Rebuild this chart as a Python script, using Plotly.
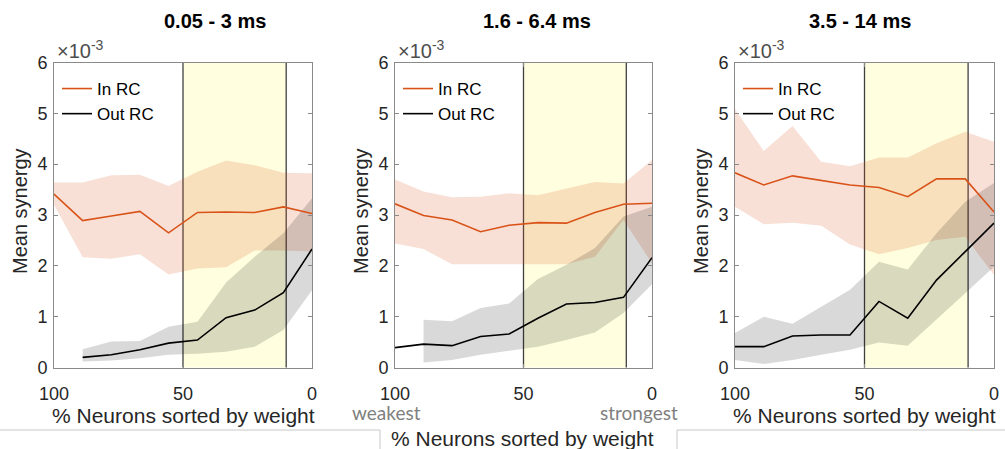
import plotly.graph_objects as go

# ---------------- data (Mean synergy, in units of 1e-3) ----------------
pct = [100, 88.9, 77.8, 66.7, 55.6, 44.4, 33.3, 22.2, 11.1, 0]
highlight = [50, 10]          # shaded window (% neurons)
titles = ["0.05 - 3 ms", "1.6 - 6.4 ms", "3.5 - 14 ms"]
xticks = [100, 50, 0]
yticks = [0, 1, 2, 3, 4, 5, 6]

# panel 1: 0.05 - 3 ms
in_mean_1 = [3.41, 2.89, 2.98, 3.07, 2.65, 3.05, 3.06, 3.05, 3.16, 3.03]
in_hi_1 = [3.64, 3.64, 3.78, 3.79, 3.57, 3.85, 4.07, 3.98, 3.83, 3.82]
in_lo_1 = [3.20, 2.17, 2.14, 2.23, 1.83, 1.95, 1.97, 2.30, 2.30, 2.28]
out_mean_1 = [None, 0.20, 0.25, 0.35, 0.48, 0.54, 0.98, 1.13, 1.47, 2.33]
out_hi_1 = [None, 0.36, 0.51, 0.52, 0.80, 0.90, 1.67, 2.18, 2.64, 3.33]
out_lo_1 = [None, 0.12, 0.14, 0.18, 0.25, 0.27, 0.31, 0.41, 0.74, 1.52]

# panel 2: 1.6 - 6.4 ms
in_mean_2 = [3.22, 2.99, 2.90, 2.67, 2.80, 2.85, 2.84, 3.05, 3.21, 3.23]
in_hi_2 = [3.70, 3.46, 3.35, 3.36, 3.43, 3.39, 3.52, 3.65, 3.62, 4.08]
in_lo_2 = [2.44, 2.33, 2.03, 2.03, 2.03, 2.03, 2.03, 2.18, 2.90, 2.05]
out_mean_2 = [0.39, 0.46, 0.43, 0.61, 0.66, 0.97, 1.25, 1.28, 1.38, 2.16]
out_hi_2 = [None, 0.94, 0.91, 1.17, 1.26, 1.74, 2.02, 2.35, 2.97, 3.16]
out_lo_2 = [None, 0.10, 0.15, 0.25, 0.33, 0.41, 0.54, 0.69, 1.07, 1.64]

# panel 3: 3.5 - 14 ms
in_mean_3 = [3.83, 3.59, 3.77, 3.68, 3.59, 3.54, 3.36, 3.71, 3.71, 3.06]
in_hi_3 = [5.08, 4.26, 4.75, 4.05, 3.96, 4.13, 4.13, 4.41, 4.64, 4.44]
in_lo_3 = [3.16, 2.82, 2.85, 2.79, 2.42, 2.23, 2.35, 2.51, 2.57, 1.82]
out_mean_3 = [0.41, 0.41, 0.62, 0.64, 0.64, 1.30, 0.97, 1.72, 2.28, 2.84]
out_hi_3 = [0.68, 1.00, 0.86, 1.20, 1.53, 2.08, 1.93, 2.64, 3.26, 3.63]
out_lo_3 = [0.15, 0.07, 0.15, 0.25, 0.35, 0.49, 0.43, 0.94, 1.46, 1.98]

panels = [
    (in_mean_1, in_hi_1, in_lo_1, out_mean_1, out_hi_1, out_lo_1),
    (in_mean_2, in_hi_2, in_lo_2, out_mean_2, out_hi_2, out_lo_2),
    (in_mean_3, in_hi_3, in_lo_3, out_mean_3, out_hi_3, out_lo_3),
]

# ---------------- style ----------------
W, H = 1005, 449
FONT = "Liberation Sans, Arial, sans-serif"
TXT = "#262626"
AX = "#8a8a8a"
ORANGE = "#D95319"
PINK_FILL = "rgba(217,83,25,0.18)"
GRAY_FILL = "rgba(0,0,0,0.15)"
YELLOW = "rgb(255,255,224)"

x_dom = [(54, 312), (395, 652), (735, 994)]
y_top, y_bot = 62.5, 367.5


def px(x):
    return x / W


def py(y):
    return 1 - y / H


fig = go.Figure()


def band(xs, hi, lo):
    pts = [(x, h, l) for x, h, l in zip(xs, hi, lo) if h is not None and l is not None]
    bx = [p[0] for p in pts] + [p[0] for p in pts][::-1]
    by = [p[1] for p in pts] + [p[2] for p in pts][::-1]
    return bx, by


for i, (im, ih, il, om, oh, ol) in enumerate(panels):
    xa = "x" if i == 0 else f"x{i+1}"
    ya = "y" if i == 0 else f"y{i+1}"
    lg = "legend" if i == 0 else f"legend{i+1}"
    bx, by = band(pct, ih, il)
    fig.add_trace(go.Scatter(x=bx, y=by, fill="toself", fillcolor=PINK_FILL,
                             line=dict(width=0), mode="lines", hoverinfo="skip",
                             showlegend=False, xaxis=xa, yaxis=ya))
    bx, by = band(pct, oh, ol)
    fig.add_trace(go.Scatter(x=bx, y=by, fill="toself", fillcolor=GRAY_FILL,
                             line=dict(width=0), mode="lines", hoverinfo="skip",
                             showlegend=False, xaxis=xa, yaxis=ya))
    fig.add_trace(go.Scatter(x=pct, y=im, mode="lines", name="In RC",
                             line=dict(color=ORANGE, width=1.6),
                             xaxis=xa, yaxis=ya, legend=lg))
    fig.add_trace(go.Scatter(x=pct, y=om, mode="lines", name="Out RC",
                             line=dict(color="#000000", width=1.6),
                             xaxis=xa, yaxis=ya, legend=lg, connectgaps=False))

    # highlighted window
    fig.add_shape(type="rect", xref=xa, yref=f"{ya} domain", x0=highlight[0], x1=highlight[1],
                  y0=0, y1=1, fillcolor=YELLOW, line=dict(width=0), layer="below")
    for xv in highlight:
        fig.add_shape(type="line", xref=xa, yref=f"{ya} domain", x0=xv, x1=xv, y0=0, y1=1,
                      line=dict(color="#404040", width=1.3), layer="below")

axis_common = dict(showline=True, linecolor=AX, linewidth=1, mirror="ticks",
                   ticks="inside", ticklen=4, tickcolor=AX, showgrid=False,
                   zeroline=False, automargin=False,
                   tickfont=dict(family=FONT, size=18, color=TXT))

layout = dict(
    width=W, height=H, margin=dict(l=0, r=0, t=0, b=0, autoexpand=False),
    paper_bgcolor="white", plot_bgcolor="white",
    font=dict(family=FONT, color=TXT),
    hovermode=False,
)
for i, (l, r) in enumerate(x_dom):
    sfx = "" if i == 0 else str(i + 1)
    layout[f"xaxis{sfx}"] = dict(domain=[px(l), px(r)], range=[100, 0], tickvals=xticks,
                                 anchor=f"y{sfx}", ticklabelstandoff=10, **axis_common)
    layout[f"yaxis{sfx}"] = dict(domain=[py(y_bot), py(y_top)], range=[0, 6], tickvals=yticks,
                                 anchor=f"x{sfx}", ticklabelstandoff=2, **axis_common)
    lg = "legend" if i == 0 else f"legend{i+1}"
    layout[lg] = dict(x=px(l + 3), y=py(71), xanchor="left", yanchor="top",
                      bgcolor="rgba(0,0,0,0)", borderwidth=0, tracegroupgap=0,
                      font=dict(family=FONT, size=17, color="#000000"),
                      itemwidth=30)
fig.update_layout(**layout)

ann = []
title_x = [215, 537, 860]
for i, (l, r) in enumerate(x_dom):
    ann.append(dict(text=f"<b>{titles[i]}</b>", x=px(title_x[i]), y=py(21), xref="paper", yref="paper",
                    showarrow=False, xanchor="center", yanchor="middle",
                    font=dict(family=FONT, size=20, color="#000000")))
    ann.append(dict(text="×10<sup>-3</sup>", x=px(l + 1), y=py(49), xref="paper", yref="paper",
                    showarrow=False, xanchor="left", yanchor="middle",
                    font=dict(family=FONT, size=20, color="#4d4d4d")))
    ann.append(dict(text="Mean synergy", x=px(l - 34), y=py(211), xref="paper", yref="paper",
                    showarrow=False, textangle=-90, xanchor="center", yanchor="middle",
                    font=dict(family=FONT, size=20, color=TXT)))

for cx, cy in [(183, 415), (864, 415), (522, 438)]:
    ann.append(dict(text="% Neurons sorted by weight", x=px(cx), y=py(cy), xref="paper", yref="paper",
                    showarrow=False, xanchor="center", yanchor="middle",
                    font=dict(family=FONT, size=21, color=TXT)))
for t, cx in [("weakest", 386), ("strongest", 639)]:
    ann.append(dict(text=t, x=px(cx), y=py(412), xref="paper", yref="paper",
                    showarrow=False, xanchor="center", yanchor="middle",
                    font=dict(family="Lato, Open Sans, sans-serif", size=19, color="#7f7f7f")))
fig.update_layout(annotations=ann)

# frame lines of the composite layout at the bottom
for (x0, y0, x1, y1) in [(0, 430, 380, 430), (380, 430, 380, 449),
                         (677, 430, 1005, 430), (677, 430, 677, 449)]:
    fig.add_shape(type="line", xref="paper", yref="paper", x0=px(x0), y0=py(y0), x1=px(x1), y1=py(y1),
                  line=dict(color="#c8c8c8", width=1))

fig.write_html("out.html")
